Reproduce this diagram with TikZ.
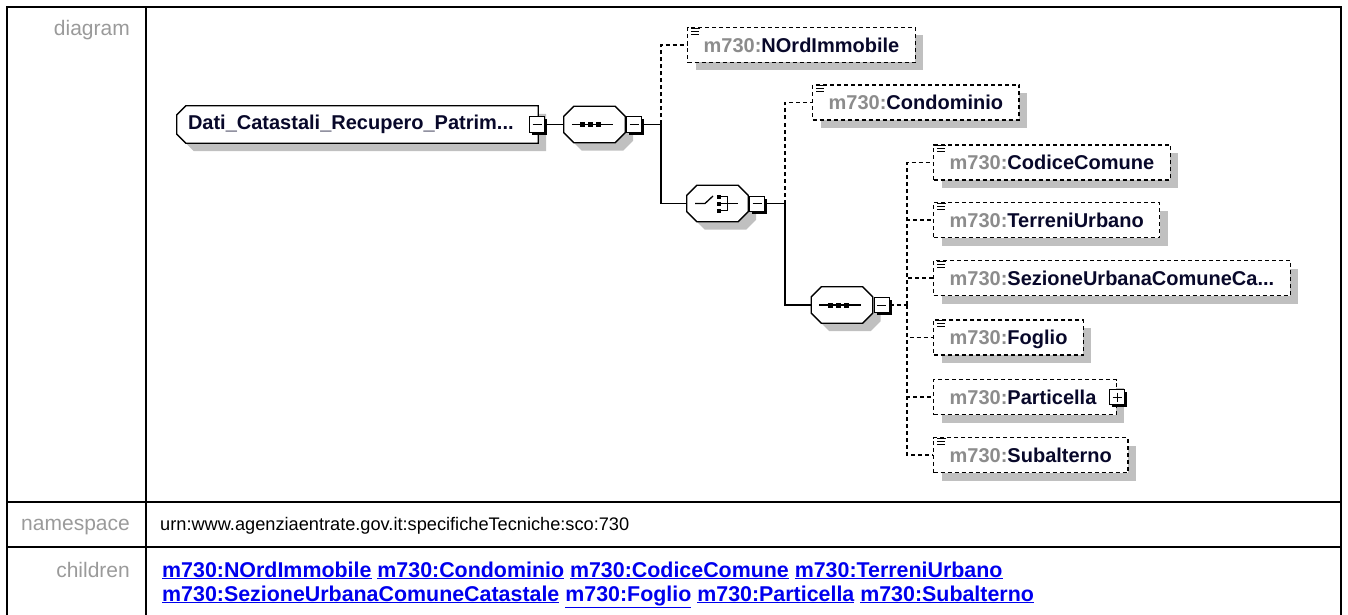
\documentclass[tikz,border=0pt]{standalone}
\usepackage{fontspec}
\setmainfont{Liberation Sans}
\usetikzlibrary{shadows}
\definecolor{lblGrey}{HTML}{9A9A9A}
\definecolor{pfxGrey}{HTML}{8C8C8C}
\definecolor{elNavy}{HTML}{08082A}
\definecolor{shGrey}{HTML}{C0C0C0}
\definecolor{lnkBlue}{HTML}{0000EE}
\newcommand\elname[1]{\textbf{{\color{pfxGrey}m730:}\color{elNavy}#1}}
\newcommand\lnk[1]{\underline{m730:#1}}
\newcommand\sticon[1]{%
  \foreach \dy/\ln in {-1.5/9,-4.5/8,-7.5/8} {\draw[line width=1pt] ([xshift=4pt,yshift=\dy pt]#1.north west) -- ++(\ln,0);}%
}
\newcommand\octo[3]{% node, west chamfer, east chamfer
  \path[shd, draw, fill=white, line width=1.3pt]
    ([xshift=#2]#1.north west) -- ([xshift=-#3]#1.north east) -- ([yshift=-#3]#1.north east)
    -- ([yshift=#3]#1.south east) -- ([xshift=-#3]#1.south east) -- ([xshift=#2]#1.south west)
    -- ([yshift=#2]#1.south west) -- ([yshift=-#2]#1.north west) -- cycle;%
}
\tikzset{
  tbl/.style     = {line width=2pt},
  lbl/.style     = {font=\fontsize{21}{24}\selectfont, text=lblGrey, anchor=base east, inner sep=0pt},
  val/.style     = {font=\fontsize{18.2}{22}\selectfont, anchor=base west, inner sep=0pt},
  lnks/.style    = {val, font=\fontsize{21.4}{24}\selectfont\bfseries, text=lnkBlue},
  shd/.style     = {drop shadow={shadow xshift=8pt, shadow yshift=-8pt, fill=shGrey, opacity=1}},
  slot/.style    = {rectangle, inner sep=0pt, minimum width=61pt, minimum height=36pt},
  rootname/.style= {anchor=west, inner sep=0pt, font=\fontsize{20}{24}\selectfont\bfseries, text=elNavy},
  elem/.style    = {draw, line width=1.3pt, dash pattern=on 4pt off 3pt, fill=white, shd,
                    anchor=west, font=\fontsize{20}{24}\selectfont, inner xsep=16pt,
                    inner ysep=3pt, text height=21.6pt, text depth=7.4pt},
  tgl/.style     = {draw, line width=1pt, fill=white, minimum size=15pt, inner sep=0pt,
                    drop shadow={shadow xshift=2.5pt, shadow yshift=-2.5pt, fill=black, opacity=1}},
  minus/.style   = {tgl, path picture={\draw[line width=1pt]
                     ([xshift=3pt]path picture bounding box.west) -- ([xshift=-3pt]path picture bounding box.east);}},
  plus/.style    = {tgl, path picture={\draw[line width=1pt]
                     ([xshift=3pt]path picture bounding box.west) -- ([xshift=-3pt]path picture bounding box.east)
                     ([yshift=-3pt]path picture bounding box.north) -- ([yshift=3pt]path picture bounding box.south);}},
  conn/.style    = {line width=1.3pt},
  dconn/.style   = {conn, dash pattern=on 4pt off 3pt},
}

\begin{document}
\begin{tikzpicture}[x=1pt, y=-1pt]
  \useasboundingbox (0,0) rectangle (1348,615);
  % table
  \draw[tbl] (7,616) -- (7,7) -- (1341,7) -- (1341,616);
  \draw[tbl] (146,7) -- (146,616);
  \draw[tbl] (7,502) -- (1341,502);
  \draw[tbl] (7,547) -- (1341,547);
  \node[lbl] (ldia) at (130,36)  {diagram};
  \node[lbl] (lns)  at (130,530) {namespace};
  \node[lbl] (lch)  at (130,577) {children};
  \node[val] (vns)  at (160,530) {urn:www.agenziaentrate.gov.it:specificheTecniche:sco:730};
  \node[lnks] (vch1) at (162,577) {\lnk{NOrdImmobile} \lnk{Condominio} \lnk{CodiceComune} \lnk{TerreniUrbano}};
  \node[lnks] (vch2) at (162,601) {\lnk{SezioneUrbanaComuneCatastale} \lnk{Foglio} \lnk{Particella} \lnk{Subalterno}};

  % root and compositors
  \node[slot, minimum width=361pt, minimum height=37pt] (root) at (357.5,124.5) {};
  \octo{root}{9pt}{0pt}
  \node[rootname] (rootlbl) at ([xshift=11pt]root.west) {Dati\_Catastali\_Recupero\_Patrim...};
  \node[minus] (rtgl) at ([xshift=-1pt]root.east) {};
  \node[slot] (seq1) at (594.5,124.5) {};
  \octo{seq1}{10pt}{10pt}
  \node[minus] (seq1tgl) at ([xshift=9pt]seq1.east) {};
  \node[slot] (cho) at (717.5,203.5) {};
  \octo{cho}{10pt}{10pt}
  \node[minus] (chotgl) at ([xshift=9pt]cho.east) {};
  \node[slot] (seq2) at (842,305) {};
  \octo{seq2}{10pt}{10pt}
  \node[minus] (seq2tgl) at ([xshift=9pt]seq2.east) {};
  \coordinate (b1) at (661,124.5);
  \coordinate (b2) at (785,203.5);
  \coordinate (b3) at (907,305);

  % icons
  \foreach \s in {seq1,seq2}{
    \draw[conn] ([xshift=8pt]\s.west) -- ([xshift=-12pt]\s.east);
    \foreach \dx in {-14.5,-6.5,1.5}
      \fill ([xshift=\dx pt,yshift=2.5pt]\s.center) rectangle +(5,5);
  }
  \begin{scope}[shift={(cho.center)}, conn]
    \draw (-22.5,0) -- (-12.5,0) -- (-4.5,-7.5);
    \foreach \dy in {-7,0,7} \fill (-0.5,\dy-2) rectangle +(4,4);
    \draw (3.5,-7) -- (10,-7) -- (10,7) -- (3.5,7);
    \draw (3.5,0) -- (20,0);
  \end{scope}

  % elements
  \node[elem] (nord) at (687,45)    {\elname{NOrdImmobile}};
  \node[elem] (cond) at (812,102.5) {\elname{Condominio}};
  \node[elem] (codc) at (933,162.5) {\elname{CodiceComune}};
  \node[elem] (terr) at (933,220)   {\elname{TerreniUrbano}};
  \node[elem] (sezu) at (933,278)   {\elname{SezioneUrbanaComuneCa...}};
  \node[elem] (fogl) at (933,337.5) {\elname{Foglio}};
  \node[elem] (part) at (933,397)   {\elname{Particella}\hspace*{4pt}};
  \node[elem] (suba) at (933,455)   {\elname{Subalterno}};
  \node[plus] (parttgl) at (part.east) {};
  \foreach \e in {nord,cond,codc,terr,sezu,fogl,suba}{\sticon{\e}}

  % connectors
  \draw[conn] (rtgl.east) -- (seq1.west);
  \draw[conn] (seq1tgl.east) -- (b1);
  \draw[dconn] (b1) |- (nord.west);
  \draw[conn] (b1) |- (cho.west);
  \draw[conn] (chotgl.east) -- (b2);
  \draw[dconn] (b2) |- (cond.west);
  \draw[conn] (b2) |- (seq2.west);
  \draw[dconn] (seq2tgl.east) -- (b3);
  \foreach \c in {codc,terr,sezu,fogl,part,suba} {\draw[dconn] (b3) |- (\c.west);}
\end{tikzpicture}
\end{document}
